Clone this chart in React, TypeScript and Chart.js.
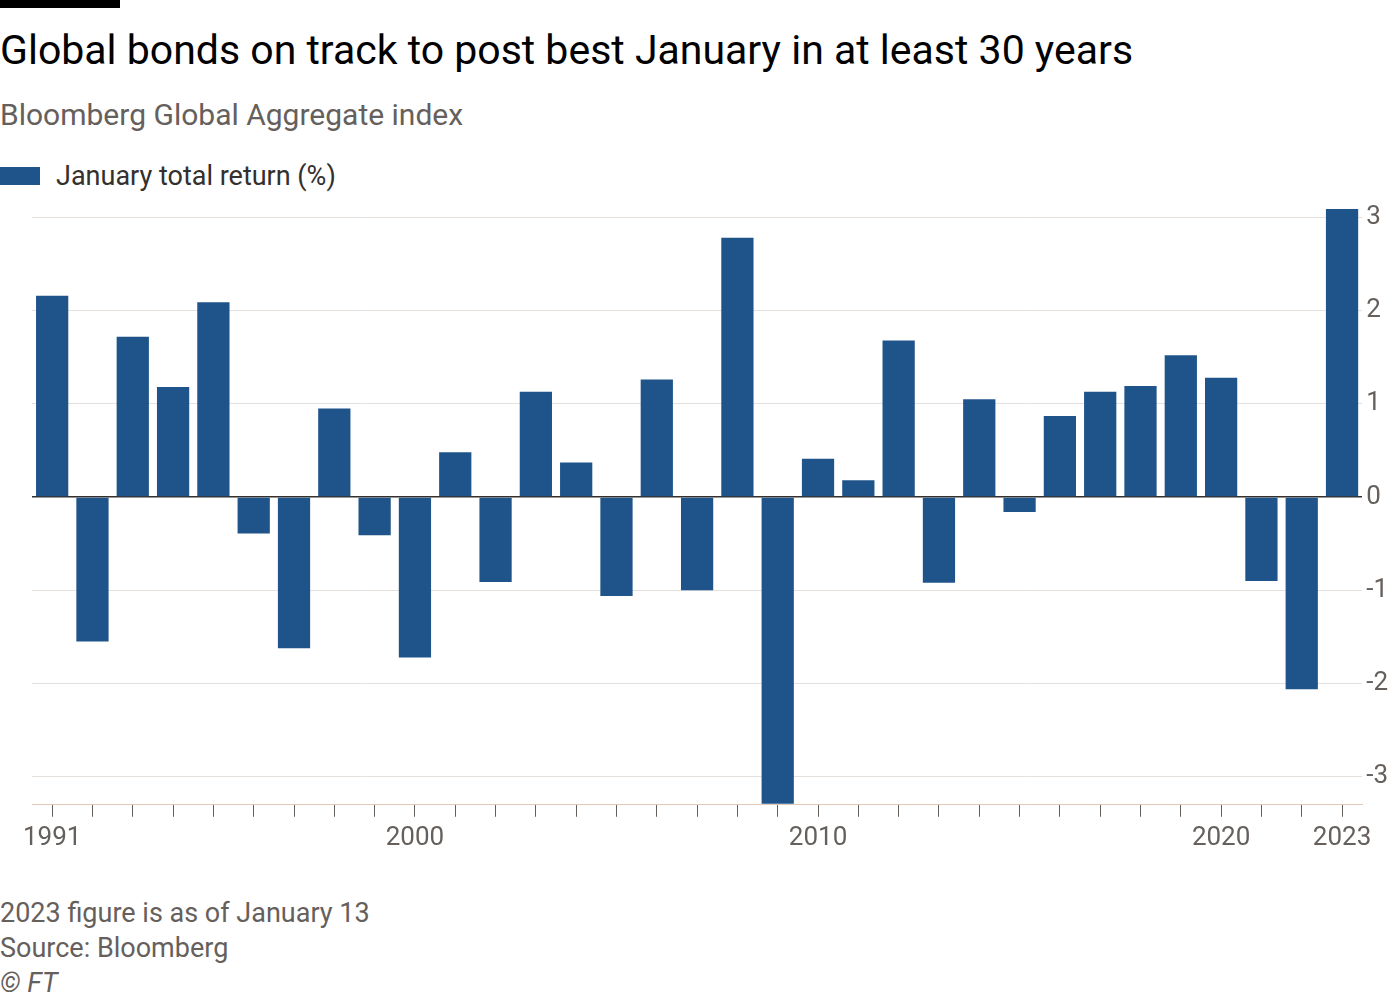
import { useRef, useEffect } from 'react';
import Chart from 'chart.js/auto';

const years: number[] = [];
for (let y = 1991; y <= 2023; y++) years.push(y);
const returns = [2.16, -1.55, 1.72, 1.18, 2.09, -0.39, -1.62, 0.95, -0.41, -1.72, 0.48, -0.91, 1.13, 0.37, -1.06, 1.26, -1.0, 2.78, -3.29, 0.41, 0.18, 1.68, -0.92, 1.05, -0.16, 0.87, 1.13, 1.19, 1.52, 1.28, -0.9, -2.06, 3.09];
const labelledYears = [1991, 2000, 2010, 2020, 2023];
const yTicks = [-3, -2, -1, 0, 1, 2, 3];

const FONT = 'Roboto, "Noto Sans", sans-serif';

export default function App() {
    const chartRef = useRef<HTMLCanvasElement>(null);

    useEffect(() => {
        if (!chartRef.current) return;
        const chart = new Chart(chartRef.current, {
            type: 'bar',
            data: {
                labels: years.map(String),
                datasets: [{
                    label: 'January total return (%)',
                    data: returns,
                    backgroundColor: '#1f548a',
                    categoryPercentage: 1,
                    barPercentage: 0.8,
                }]
            },
            options: {
                animation: false,
                responsive: false,
                layout: { padding: { top: 28, right: 8, left: 32 } },
                plugins: { legend: { display: false }, tooltip: { enabled: false } },
                scales: {
                    x: {
                        grid: { drawOnChartArea: false, color: '#66605c', tickLength: 12, offset: false },
                        border: { color: '#e0c9b8' },
                        ticks: {
                            autoSkip: false,
                            maxRotation: 0,
                            padding: 6,
                            color: '#66605c',
                            font: { family: FONT, size: 26 },
                            callback: (_v: any, i: number) => labelledYears.includes(years[i]) ? String(years[i]) : '',
                        },
                    },
                    y: {
                        position: 'right',
                        min: -3.3,
                        max: 3.1,
                        afterBuildTicks: (axis: any) => { axis.ticks = yTicks.map(v => ({ value: v })); },
                        grid: {
                            color: (ctx: any) => ctx.tick && ctx.tick.value === 0 ? '#33302e' : '#e6e0dc',
                            lineWidth: (ctx: any) => ctx.tick && ctx.tick.value === 0 ? 1.5 : 1,
                            drawTicks: false,
                        },
                        border: { display: false },
                        ticks: {
                            padding: 4,
                            color: '#66605c',
                            font: { family: FONT, size: 26 },
                        },
                    },
                },
            },
        } as any);
        return () => chart.destroy();
    }, []);

    return (
        <div style={{ position: 'absolute', left: 0, top: 0, width: 1400, height: 1000, background: '#fff', fontFamily: FONT, overflow: 'hidden' }}>
            <div style={{ position: 'absolute', left: 0, top: 0, width: 120, height: 8, background: '#000' }} />
            <div style={{ position: 'absolute', left: 0, top: 26, fontSize: 41, color: '#000' }}>Global bonds on track to post best January in at least 30 years</div>
            <div style={{ position: 'absolute', left: 0, top: 97, fontSize: 30, color: '#66605c' }}>Bloomberg Global Aggregate index</div>
            <div style={{ position: 'absolute', left: 0, top: 160, fontSize: 27, color: '#33302e', display: 'flex', alignItems: 'center' }}>
                <span style={{ display: 'inline-block', width: 40, height: 18, background: '#1f548a', marginRight: 16 }} />
                January total return (%)
            </div>
            <canvas ref={chartRef} width={1400} height={680} style={{ position: 'absolute', left: 0, top: 180 }} />
            <div style={{ position: 'absolute', left: 0, top: 896, fontSize: 27, color: '#66605c', lineHeight: '35px' }}>
                <div>2023 figure is as of January 13</div>
                <div>Source: Bloomberg</div>
                <div style={{ fontStyle: 'italic' }}>© FT</div>
            </div>
        </div>
    );
}
